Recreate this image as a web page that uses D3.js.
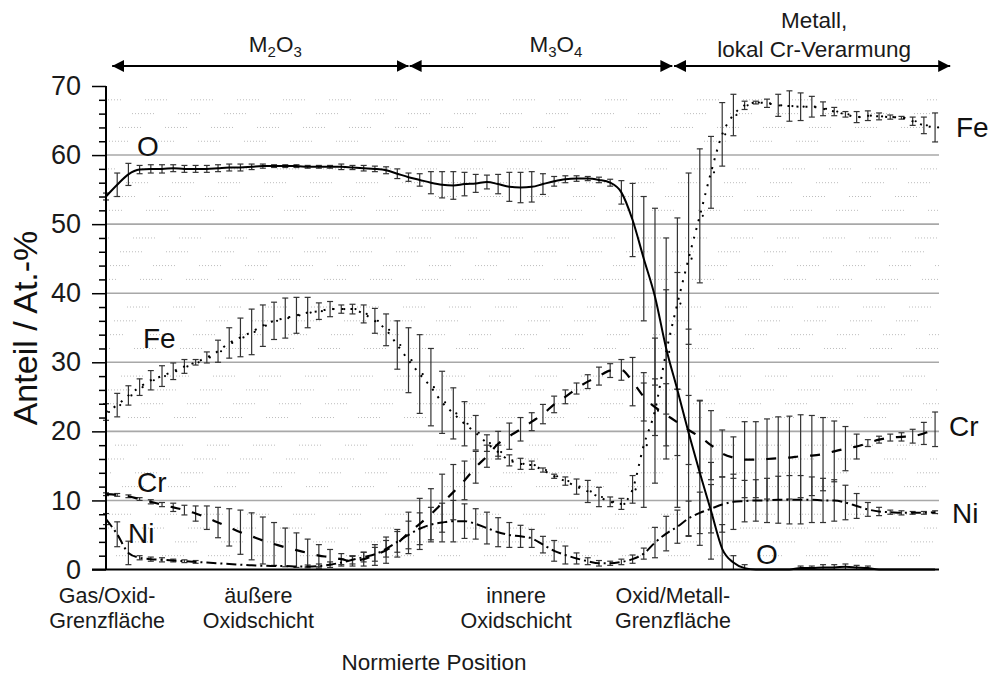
<!DOCTYPE html>
<html><head><meta charset="utf-8">
<script src="https://cdn.jsdelivr.net/npm/d3@7/dist/d3.min.js"></script>
<style>
body{margin:0;background:#fff;}
svg{display:block;font-family:"Liberation Sans",Arial,sans-serif;}
</style></head><body>
<svg id="chart" width="994" height="675"></svg>
<script>
// ---- data (normalized position index 0..74) ----
const oxygen = [54.0,55.7,57.2,57.9,58.0,58.0,58.1,58.0,58.0,58.0,
 58.1,58.2,58.2,58.3,58.4,58.4,58.4,58.4,58.3,58.3,
 58.3,58.3,58.2,58.1,58.0,57.8,57.3,56.8,56.4,56.0,
 55.7,55.6,55.8,55.9,56.1,55.8,55.4,55.3,55.4,55.8,
 56.2,56.5,56.6,56.6,56.4,56.0,54.6,50.6,45.0,39.5,
 32.0,26.0,19.8,14.0,8.5,3.0,1.0,0.2,0,0,
 0,0,0.2,0.2,0.3,0.3,0.4,0.3,0.2,0,
 0,0,0,0,0];
const oxygenErr = [0.5,1.7,1.6,0.6,0.6,0.6,0.5,0.5,0.5,0.5,
 0.5,0.5,0.5,0.4,0.3,0.2,0.2,0.2,0.2,0.2,
 0.2,0.4,0.3,0.4,0.4,0.5,0.7,0.6,0.9,1.6,
 1.9,2.0,1.7,1.3,1.0,1.4,2.1,2.2,2.2,1.5,
 0.7,0.5,0.4,0.3,0.4,0.5,1.7,5.3,9.0,12.8,
 16.0,17.0,15.0,10.5,7.0,3.5,1.0,0.5,0,0,
 0,0,0.3,0.3,0.4,0.4,0.4,0.3,0.3,0,
 0,0,0,0,0];
const iron = [22.8,23.8,25.2,26.4,27.4,28.0,28.7,29.4,30.0,30.7,
 31.6,32.8,33.6,34.4,35.3,36.0,36.4,36.8,37.2,37.4,
 37.7,37.7,37.7,37.0,36.0,34.7,32.5,30.3,28.3,26.4,
 24.2,22.6,21.1,19.8,18.3,17.0,15.8,15.3,15.1,14.4,
 13.5,12.8,12.0,11.3,10.5,9.8,9.5,11.6,18.0,23.0,
 31.5,38.5,45.0,51.2,57.5,63.0,65.8,67.2,67.6,67.5,
 67.2,67.1,67.0,67.0,66.7,66.3,65.9,65.5,65.7,65.6,
 65.5,65.4,64.9,64.3,64.0];
const ironErr = [1.2,1.7,1.4,1.2,1.4,1.5,1.2,1.0,0.4,0.8,
 1.6,2.2,2.8,3.3,3.0,2.7,2.9,2.6,2.2,1.2,
 1.1,0.6,0.7,1.3,1.8,2.3,3.5,4.7,5.7,5.6,
 4.5,3.7,3.2,2.5,1.2,1.0,0.8,0.8,0.6,0.3,
 0.3,0.6,1.1,1.6,1.4,0.7,0.8,2.0,9.0,10.5,
 9.0,12.4,12.4,9.7,5.2,4.6,3.0,0.6,0.2,0.6,
 1.6,2.2,2.0,1.5,1.0,0.6,0.4,0.8,0.7,0.5,
 0.3,0.2,0.6,1.2,2.1];
const chromium = [10.9,10.8,10.6,10.2,9.8,9.4,9.0,8.6,8.1,7.5,
 6.8,6.1,5.4,4.8,4.2,3.7,3.2,2.8,2.4,2.0,
 1.8,1.5,1.2,1.5,2.1,2.8,3.8,5.3,6.6,8.0,
 9.6,11.2,12.9,14.8,16.4,18.2,19.3,20.3,21.4,22.5,
 23.9,25.0,26.2,27.2,28.0,28.8,28.9,27.2,25.0,23.5,
 22.4,21.3,20.2,19.2,18.0,16.8,16.2,15.9,15.9,16.0,
 16.1,16.2,16.4,16.5,16.7,17.1,17.5,17.8,18.3,18.8,
 19.1,19.2,19.3,19.7,20.3];
const chromiumErr = [0.2,0.2,0.2,0.2,0.3,0.3,0.6,0.7,1.1,1.7,
 2.2,2.7,3.2,3.4,3.4,3.1,2.8,2.5,2.0,1.6,
 1.1,0.8,0.7,1.0,1.5,1.9,2.0,3.0,3.7,3.7,
 4.2,4.0,2.8,2.3,1.6,1.8,1.9,1.7,1.3,1.4,
 1.2,1.0,0.8,1.0,1.3,1.0,1.5,3.5,3.5,4.1,
 4.5,4.8,5.0,5.2,5.0,3.4,3.0,5.5,5.5,5.8,
 6.0,6.0,6.0,5.8,5.3,4.4,3.2,1.8,0.5,0.5,
 0.5,0.6,1.0,1.6,2.5];
const nickel = [7.3,5.1,2.4,1.7,1.5,1.4,1.3,1.2,1.1,1.0,
 0.9,0.8,0.7,0.6,0.55,0.5,0.5,0.45,0.45,0.5,
 0.7,1.0,1.4,1.8,2.2,3.0,4.0,5.0,5.9,6.5,
 6.8,7.0,7.0,6.6,6.0,5.4,5.0,4.8,4.5,3.6,
 2.7,2.1,1.6,1.2,0.9,0.9,1.1,1.5,2.3,3.9,
 5.2,6.2,7.4,8.2,8.8,9.4,9.8,9.9,10.0,10.0,
 10.1,10.1,10.1,10.1,10.0,10.0,9.7,9.2,8.7,8.4,
 8.3,8.2,8.2,8.2,8.3];
const nickelErr = [0.8,1.8,1.7,0.3,0.3,0.3,0.2,0.2,0.2,0.1,
 0.1,0.1,0.1,0.1,0.1,0.1,0.1,0.1,0.2,0.3,
 0.4,0.5,0.6,0.7,1.0,1.2,1.5,2.0,2.3,2.5,
 2.8,3.0,2.5,2.2,2.3,2.1,1.8,1.6,1.3,1.2,
 1.5,1.3,0.8,0.5,0.4,0.3,0.4,0.6,0.8,2.2,
 2.5,2.4,2.5,3.0,3.5,4.0,4.0,3.0,3.0,3.2,
 3.4,3.5,3.5,3.3,3.2,3.0,2.5,1.8,1.0,0.6,
 0.3,0.3,0.2,0.2,0.2];
const yMajorTicks = [0,10,20,30,40,50,60,70];
const yMinorTicks = [2,4,6,8,12,14,16,18,22,24,26,28,32,34,36,38,42,44,46,48,52,54,56,58,62,64,66,68];
const regionLabels = ["M₂O₃","M₃O₄","Metall,|lokal Cr-Verarmung"];
const regionBounds = [[0.55,27.0],[27.1,50.55],[50.7,75.35]];
const positionLabels = [["Gas/Oxid-","Grenzfläche"],["äußere","Oxidschicht"],["innere","Oxidschicht"],["Oxid/Metall-","Grenzfläche"]];
const positionLabelAt = [0.1,13.6,36.6,50.6];
const xTitle = "Normierte Position";
const yTitle = "Anteil / At.-%";

// ---- drawing ----
const svg = d3.select("#chart");
const x = d3.scaleLinear().domain([0,74.35]).range([106,939]);
const y = d3.scaleLinear().domain([0,70]).range([569.5,86]);

// minor dotted grid
svg.append("g").selectAll("line").data(yMinorTicks).join("line")
  .attr("x1",108).attr("x2",939).attr("y1",d=>y(d)).attr("y2",d=>y(d))
  .attr("stroke","#bdbdbd").attr("stroke-width",1)
  .attr("stroke-dasharray","1 2 1 2 1 2 1 2 1 2 1 2 1 2 1 24")
  .attr("stroke-dashoffset",(d,i)=>-((i*13)%46)-8);
// major grid
svg.append("g").selectAll("line").data(yMajorTicks.filter(d=>d>0&&d<70)).join("line")
  .attr("x1",106).attr("x2",939).attr("y1",d=>y(d)).attr("y2",d=>y(d))
  .attr("stroke","#a8a8a8").attr("stroke-width",1.6);

const series = [
  {name:"O", v:oxygen, e:oxygenErr, dash:null, w:2},
  {name:"Fe", v:iron, e:ironErr, dash:"2 7", w:2},
  {name:"Cr", v:chromium, e:chromiumErr, dash:"10 12", w:2.2},
  {name:"Ni", v:nickel, e:nickelErr, dash:"10 4 2 4", w:2}
];

// error bars
const eb = svg.append("g").attr("stroke","#333").attr("stroke-width",1.2);
series.forEach(s=>{
  s.v.forEach((v,i)=>{
    const e = s.e[i];
    if(e<0.15) return;
    const lo = Math.max(0,v-e), hi = Math.min(70,v+e);
    const cx = x(i);
    eb.append("line").attr("x1",cx).attr("x2",cx).attr("y1",y(lo)).attr("y2",y(hi));
    eb.append("line").attr("x1",cx-3).attr("x2",cx+3).attr("y1",y(hi)).attr("y2",y(hi));
    if(lo>0) eb.append("line").attr("x1",cx-3).attr("x2",cx+3).attr("y1",y(lo)).attr("y2",y(lo));
  });
});

// lines
const line = d3.line().x((d,i)=>x(i)).y(d=>y(d)).curve(d3.curveMonotoneX);
series.forEach(s=>{
  svg.append("path").datum(s.v).attr("d",line).attr("fill","none")
    .attr("stroke","#000").attr("stroke-width",s.w)
    .attr("stroke-dasharray",s.dash);
});
// Fe point markers
svg.append("g").selectAll("circle").data(iron).join("circle")
  .attr("cx",(d,i)=>x(i)+3).attr("cy",d=>y(d)).attr("r",1.1).attr("fill","#000");

// axes
const yAxis = d3.axisLeft(y).tickValues(yMajorTicks).tickSize(14).tickPadding(11);
const gy = svg.append("g").attr("transform","translate(106,0)").call(yAxis);
gy.select(".domain").remove();
gy.selectAll(".tick line").attr("stroke","#000").attr("stroke-width",1.5);
gy.selectAll(".tick text").attr("font-size",27).attr("fill","#1a1a1a")
  .attr("font-family","'Liberation Sans',Arial,sans-serif");
const gyMinor = svg.append("g").attr("transform","translate(106,0)")
  .call(d3.axisLeft(y).tickValues(yMinorTicks).tickSize(7).tickFormat(""));
gyMinor.select(".domain").remove();
gyMinor.selectAll(".tick line").attr("stroke","#000").attr("stroke-width",1.5);
svg.append("line").attr("x1",106).attr("x2",106).attr("y1",y(70)).attr("y2",y(0))
  .attr("stroke","#000").attr("stroke-width",2);
svg.append("line").attr("x1",92).attr("x2",939).attr("y1",y(0)).attr("y2",y(0))
  .attr("stroke","#000").attr("stroke-width",2.2);

// y title
svg.append("text").attr("transform","translate(37,328) rotate(-90)")
  .attr("text-anchor","middle").attr("font-size",34).attr("fill","#111").text(yTitle);

// position labels
positionLabels.forEach((lines,k)=>{
  const t = svg.append("text").attr("text-anchor","middle").attr("font-size",21.5).attr("fill","#1a1a1a");
  lines.forEach((l,j)=>t.append("tspan").attr("x",x(positionLabelAt[k])).attr("y",603+j*25).text(l));
});
svg.append("text").attr("x",434).attr("y",670).attr("text-anchor","middle")
  .attr("font-size",22.5).attr("fill","#1a1a1a").text(xTitle);

// region arrows
const defs = svg.append("defs");
defs.append("marker").attr("id","ah").attr("viewBox","0 0 12 12").attr("refX",12).attr("refY",6)
  .attr("markerWidth",12).attr("markerHeight",12).attr("markerUnits","userSpaceOnUse")
  .attr("orient","auto-start-reverse")
  .append("path").attr("d","M0,0 L12,6 L0,12 Z").attr("fill","#000");
regionBounds.forEach(b=>{
  svg.append("line").attr("x1",x(b[0])).attr("x2",x(b[1])).attr("y1",66).attr("y2",66)
    .attr("stroke","#000").attr("stroke-width",2.2)
    .attr("marker-start","url(#ah)").attr("marker-end","url(#ah)");
});
function chem(sel, txt){
  const map = {"₂":"2","₃":"3","₄":"4"};
  let prevSub = false;
  for(const ch of txt){
    if(map[ch]){ sel.append("tspan").attr("font-size",15).attr("dy",5).text(map[ch]); prevSub = true; }
    else { sel.append("tspan").attr("dy",prevSub?-5:0).text(ch); prevSub = false; }
  }
}
regionLabels.forEach((lab,k)=>{
  const cx = (x(regionBounds[k][0])+x(regionBounds[k][1]))/2;
  if(lab.includes("|")){
    const parts = lab.split("|");
    svg.append("text").attr("x",cx+2).attr("y",28).attr("text-anchor","middle").attr("font-size",22.5).attr("fill","#1a1a1a").text(parts[0]);
    svg.append("text").attr("x",cx+2).attr("y",57).attr("text-anchor","middle").attr("font-size",22.5).attr("fill","#1a1a1a").text(parts[1]);
  } else {
    const t = svg.append("text").attr("x",cx+15).attr("y",52).attr("text-anchor","middle").attr("font-size",22.5).attr("fill","#1a1a1a");
    chem(t, lab);
  }
});

// series labels
const seriesLabels = [
  ["O",137,156],["Fe",143,348],["Cr",137,492],["Ni",128,543],
  ["Fe",956,137],["Cr",949,436],["Ni",952,523],["O",756,564]
];
svg.append("g").selectAll("text").data(seriesLabels).join("text")
  .attr("x",d=>d[1]).attr("y",d=>d[2]).attr("font-size",28).attr("fill","#111").text(d=>d[0]);
</script>
</body></html>
